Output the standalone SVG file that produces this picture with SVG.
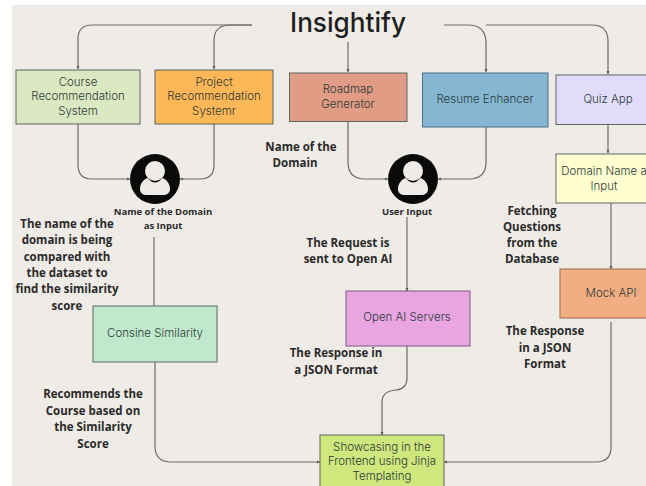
<svg xmlns="http://www.w3.org/2000/svg" width="646" height="486" viewBox="0 0 646 486">
<style>
.n{stroke:#5f6660;stroke-width:1}
.t{font-family:"Inter","Liberation Sans",sans-serif;font-size:11.500px;font-weight:300;fill:#2c3a38;text-anchor:middle}
.b{font-family:"Open Sans","Liberation Sans",sans-serif;font-size:11.500px;font-weight:700;fill:#2a2a2a;text-anchor:middle}
.c{fill:none;stroke:#6d6d6a;stroke-width:1.2}
</style>
<defs>
<marker id="a" markerWidth="4" markerHeight="4" refX="3" refY="2" orient="auto" markerUnits="userSpaceOnUse"><path d="M0 .5L3 2L0 3.500Z" fill="#5a5a58"/></marker>
<g id="person"><circle r="25" fill="#0a0a0a"/><circle cy="-8" r="10" fill="#efebe7"/><path d="M-15 10C-15 4-11 0-7 -1C-3 5 3 5 7 -1C11 0 15 4 15 10C15 14 12 16 8 16H-8C-12 16-15 14-15 10Z" fill="#efebe7"/></g>
</defs>
<rect width="646" height="486" fill="#fff"/>
<rect x="12" y="5" width="634" height="481" fill="#efebe7"/>
<g id="connectors">
<path class="c" d="M252 25H92Q78 25 78 39V69" marker-end="url(#a)"/>
<path class="c" d="M252 25H230Q214 25 214 41V69" marker-end="url(#a)"/>
<path class="c" d="M444 25H468Q486 25 486 43V72" marker-end="url(#a)"/>
<path class="c" d="M486 25H592Q608 25 608 41V74" marker-end="url(#a)"/>
<path class="c" d="M348 42V72" marker-end="url(#a)"/>
<path class="c" d="M78 124V165Q78 179 92 179H130" marker-end="url(#a)"/>
<path class="c" d="M214 124V165Q214 179 200 179H180" marker-end="url(#a)"/>
<path class="c" d="M348 121V162Q348 179 365 179H388" marker-end="url(#a)"/>
<path class="c" d="M486 127V162Q486 179 469 179H438" marker-end="url(#a)"/>
<path class="c" d="M608 125V153" marker-end="url(#a)"/>
<path class="c" d="M611 203V269" marker-end="url(#a)"/>
<path class="c" d="M154 237V306"/>
<path class="c" d="M407 217V291" marker-end="url(#a)"/>
<path class="c" d="M155 362V446Q155 462 171 462H320" marker-end="url(#a)"/>
<path class="c" d="M407 346V378Q407 389 396 390Q382 391 382 402V435" marker-end="url(#a)"/>
<path class="c" d="M611 322V447Q611 462 596 462H444" marker-end="url(#a)"/>
</g>
<g id="title"><text x="348" y="32" font-family="Inter,'Liberation Sans',sans-serif" font-size="27.500" font-weight="500" fill="#1f1f1f" text-anchor="middle" textLength="116" lengthAdjust="spacingAndGlyphs">Insightify</text></g>
<g id="course"><rect class="n" x="16" y="70" width="124" height="54" fill="#dce8c1"/><text class="t"><tspan x="78" y="86">Course</tspan><tspan x="78" y="100">Recommendation</tspan><tspan x="78" y="115">System</tspan></text></g>
<g id="project"><rect class="n" x="155" y="70" width="118" height="54" fill="#fdb757"/><text class="t"><tspan x="214" y="86">Project</tspan><tspan x="214" y="100">Recommendation</tspan><tspan x="214" y="115">Systemr</tspan></text></g>
<g id="roadmap"><rect class="n" x="289.500" y="73" width="117.500" height="48.500" fill="#e09c85"/><text class="t"><tspan x="348" y="93">Roadmap</tspan><tspan x="348" y="108">Generator</tspan></text></g>
<g id="resume"><rect x="422.500" y="73" width="125.500" height="54" fill="#85b6d2" stroke="#4c6f85"/><text class="t" x="485" y="103">Resume Enhancer</text></g>
<g id="quiz"><rect class="n" x="556" y="75" width="92" height="49.500" fill="#e2dcfb"/><text class="t" x="608" y="103">Quiz App</text></g>
<g id="domain"><rect class="n" x="556" y="154" width="92" height="49" fill="#fefed0"/><text class="t"><tspan x="604" y="175">Domain Name a</tspan><tspan x="604" y="190">Input</tspan></text></g>
<g id="mock"><rect x="560" y="269" width="88" height="49" fill="#f2ae82" stroke="#a06a45"/><text class="t" x="611" y="297">Mock API</text></g>
<g id="openai"><rect x="346" y="291" width="124" height="55" fill="#e8a5e1" stroke="#7d5a80"/><text class="t" x="407" y="321">Open AI Servers</text></g>
<g id="cosine"><rect class="n" x="93" y="306" width="124" height="56" fill="#bfe8cc"/><text class="t" x="155" y="337">Consine Similarity</text></g>
<g id="frontend"><rect class="n" x="320" y="435" width="124" height="60" fill="#cfe77c"/><text class="t"><tspan x="382" y="451">Showcasing in the</tspan><tspan x="382" y="465">Frontend using Jinja</tspan><tspan x="382" y="480">Templating</tspan></text></g>
<g id="user1"><use href="#person" x="155" y="179"/></g>
<g id="user2"><use href="#person" x="413" y="179"/></g>
<g id="labels">
<text class="b" style="font-size:9.500px"><tspan x="163" y="215">Name of the Domain</tspan><tspan x="163" y="229">as Input</tspan></text>
<text class="b" style="font-size:9.500px" x="407" y="215">User Input</text>
<text class="b"><tspan x="301" y="151">Name of the</tspan><tspan x="295" y="167">Domain</tspan></text>
<text class="b"><tspan x="67" y="228">The name of the</tspan><tspan x="67" y="244">domain is being</tspan><tspan x="67" y="261">compared with</tspan><tspan x="67" y="277">the dataset to</tspan><tspan x="67" y="293">find the similarity</tspan><tspan x="67" y="310">score</tspan></text>
<text class="b"><tspan x="93" y="398">Recommends the</tspan><tspan x="93" y="415">Course based on</tspan><tspan x="93" y="431">the Similarity</tspan><tspan x="93" y="448">Score</tspan></text>
<text class="b"><tspan x="348" y="247">The Request is</tspan><tspan x="348" y="263">sent to Open AI</tspan></text>
<text class="b"><tspan x="336" y="357">The Response in</tspan><tspan x="336" y="374">a JSON Format</tspan></text>
<text class="b"><tspan x="532" y="215">Fetching</tspan><tspan x="532" y="231">Questions</tspan><tspan x="532" y="247">from the</tspan><tspan x="532" y="263">Database</tspan></text>
<text class="b"><tspan x="545" y="335">The Response</tspan><tspan x="545" y="352">in a JSON</tspan><tspan x="545" y="368">Format</tspan></text>
</g>
</svg>
